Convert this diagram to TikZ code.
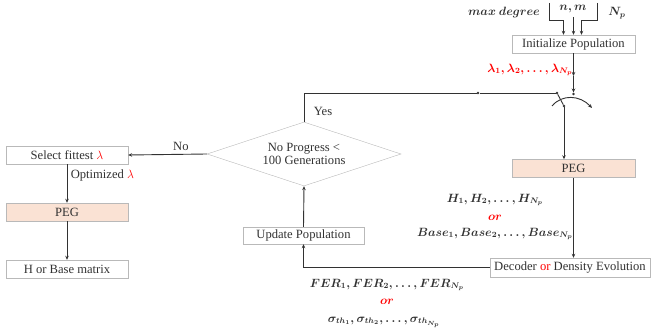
\documentclass[tikz,border=0pt]{standalone}
\usepackage{fontspec}
\setmainfont{Liberation Serif}
\usetikzlibrary{shapes.geometric,arrows.meta}
\definecolor{peach}{RGB}{250,226,212}
\definecolor{ink}{RGB}{50,50,50}
\begin{document}
\begin{tikzpicture}[x=1pt,y=-1pt,>={Stealth[length=4pt,width=3.5pt]},
  font=\fontsize{12.6}{13.5}\selectfont, every node/.style={text=ink},
  box/.style={draw=gray!55,fill=white,minimum height=18pt,inner sep=1pt},
  pegbox/.style={box,fill=peach},
  dot/.style={circle,fill=ink,inner sep=0pt,minimum size=2.6pt},
  link/.style={draw=ink,line width=0.9pt},
  mlabel/.style={font=\fontsize{12}{13}\selectfont\boldmath}]

\useasboundingbox (0,0) rectangle (651,334);

% right column
\node[box,minimum width=123pt] (I) at (573.5,44) {Initialize Population};
\node[pegbox,minimum width=123pt] (P) at (573.5,168.5) {PEG};
\node[box,minimum width=160pt,minimum height=19pt] (D) at (570,267.5) {Decoder \textcolor{red}{or} Density Evolution};

% middle
\node[box,minimum width=121pt,minimum height=17pt] (U) at (303.5,235.5) {Update Population};
\node[diamond,draw=gray!55,aspect=3,inner sep=0pt,minimum width=194pt,minimum height=64pt,align=center] (C) at (304,154) {No Progress <\\100 Generations};

% left column
\node[box,minimum width=122pt] (S) at (67,155) {Select fittest \textcolor{red}{$\lambda$}};
\node[pegbox,minimum width=122pt] (P2) at (67,212) {PEG};
\node[box,minimum width=122pt] (M) at (67,269) {H or Base matrix};

% inputs of the population
\coordinate (md) at (549,3);
\coordinate (nm) at (573.5,17);
\coordinate (np) at (597,3);
\node[mlabel] (mdl) at (504,13) {$max\ degree$};
\node[mlabel] (nml) at (573,9) {$n,m$};
\node[mlabel] (npl) at (617,13) {$N_p$};
\draw[link,->] (md) -- ++(0,17) -| ([xshift=-10pt]I.north);
\draw[link,->] (nm) -- (I.north);
\draw[link,->] (np) -- ++(0,17) -| ([xshift=8pt]I.north);

% switch
\coordinate (lam) at (573.5,76);
\node[dot] (s2) at (573.5,94) {};
\node[dot] (sin) at (557,93) {};
\node[dot] (sout) at (564,106) {};
\node[dot] (j1) at (478,93) {};
\coordinate (r1) at (552,106);
\coordinate (r2) at (592,108);
\node[mlabel,text=red] (laml) at (530,70) {$\lambda_1,\lambda_2,\dots,\lambda_{N_p}$};
\draw[link,->] (I.south) -- (lam);
\draw[link,->] (lam) -- (s2);
\draw[link] (sin) -- (sout);
\draw[link,->] (r1) .. controls (562,94) and (580,95) .. (r2);
\draw[link,->] (sout) -- (sout |- P.north);

% loop
\draw[link] (C.north) |- (j1) -- (sin);
\node (yes) at (323,111) {Yes};
\draw[link,->] (C.west) -- node[above,pos=0.33] {No} (S.east);
\draw[link,->] (P.south) -- (P.south |- D.north);
\draw[link,->] (D.west) -| (U.south);
\draw[link,->] (U.north) -- (C.south);
\draw[link,->] (S) -- node[right,pos=0.3] {Optimized \textcolor{red}{$\lambda$}} (P2);
\draw[link,->] (P2) -- (M);

% labels
\node[mlabel] (hl) at (495,200) {$H_1,H_2,\dots,H_{N_p}$};
\node[mlabel] (hor) at (495,218) {\textcolor{red}{$or$}};
\node[mlabel] (bl) at (495,234) {$Base_1,Base_2,\dots,Base_{N_p}$};
\node[mlabel] (fl) at (387,285) {$FER_1,FER_2,\dots,FER_{N_p}$};
\node[mlabel] (for) at (387,302) {\textcolor{red}{$or$}};
\node[mlabel] (sl) at (384,322) {$\sigma_{th_1},\sigma_{th_2},\dots,\sigma_{th_{N_p}}$};

\end{tikzpicture}
\end{document}
